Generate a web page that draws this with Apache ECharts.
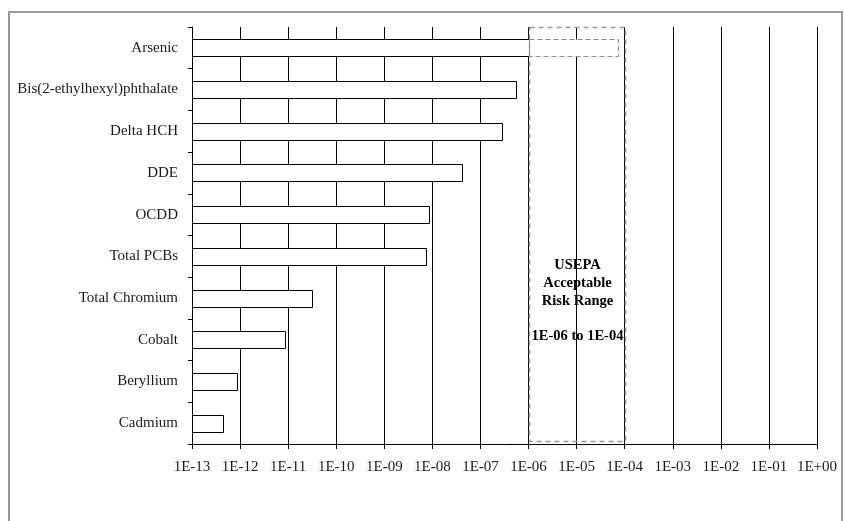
<!DOCTYPE html>
<html>
<head>
<meta charset="utf-8">
<script src="https://cdn.jsdelivr.net/npm/echarts@6/dist/echarts.min.js"></script>
<style>
  html, body { margin: 0; padding: 0; background: #fff; }
  #chart { width: 844px; height: 521px; }
</style>
</head>
<body>
<div id="chart"></div>
<script>
// Estimated excess lifetime cancer risk by chemical (log scale)
const categories = [
  'Arsenic',
  'Bis(2-ethylhexyl)phthalate',
  'Delta HCH',
  'DDE',
  'OCDD',
  'Total PCBs',
  'Total Chromium',
  'Cobalt',
  'Beryllium',
  'Cadmium'
];
const riskValues = [7.3e-5, 5.6e-7, 2.8e-7, 4.2e-8, 8.7e-9, 7.4e-9, 3.1e-11, 8.7e-12, 8.8e-13, 4.4e-13];

const tickLabels = ['1E-13', '1E-12', '1E-11', '1E-10', '1E-09', '1E-08', '1E-07',
                    '1E-06', '1E-05', '1E-04', '1E-03', '1E-02', '1E-01', '1E+00'];
const axisMin = 1e-13;
const axisMax = 1;

// USEPA acceptable risk range box
const acceptableRange = [1e-6, 1e-4];
const rangeNote = ['USEPA', 'Acceptable', 'Risk Range', '', '1E-06 to 1E-04'];

const SERIF = '"Liberation Serif", "Times New Roman", serif';
const px = v => Math.round(v) + 0.5;

const chart = echarts.init(document.getElementById('chart'), null, { renderer: 'canvas' });

chart.setOption({
  animation: false,
  backgroundColor: '#fff',
  grid: { left: 192, right: 27, top: 27, bottom: 77, containLabel: false },
  xAxis: {
    type: 'log',
    logBase: 10,
    min: axisMin,
    max: axisMax,
    interval: 1,
    axisLine: { show: true, lineStyle: { color: '#000', width: 1 } },
    axisTick: { show: true, length: 5, lineStyle: { color: '#000' } },
    splitLine: { show: true, lineStyle: { color: '#000', width: 1 } },
    minorTick: { show: false },
    axisLabel: {
      margin: 16,
      color: '#1a1a1a',
      fontFamily: SERIF,
      fontSize: 15,
      showMinLabel: true,
      showMaxLabel: true,
      formatter: v => tickLabels[Math.round(Math.log10(v)) + 13]
    }
  },
  yAxis: {
    type: 'category',
    inverse: true,
    data: categories,
    axisLine: { show: true, lineStyle: { color: '#000', width: 1 } },
    axisTick: { show: true, length: 4, interval: 0, lineStyle: { color: '#000' } },
    splitLine: { show: false },
    axisLabel: {
      margin: 14,
      interval: 0,
      color: '#1a1a1a',
      fontFamily: SERIF,
      fontSize: 15
    }
  },
  graphic: [
    {
      type: 'rect',
      z: 100,
      shape: { x: 9, y: 12, width: 833, height: 520 },
      style: { fill: 'none', stroke: '#9a9a9a', lineWidth: 2 }
    }
  ],
  series: [
    {
      // risk bars, drawn from the axis minimum to each value
      type: 'custom',
      z: 5,
      encode: { x: 0, y: 1 },
      data: riskValues.map((v, i) => [v, i]),
      renderItem(params, api) {
        const v = api.value(0);
        const idx = api.value(1);
        const start = api.coord([axisMin, idx]);
        const end = api.coord([v, idx]);
        const band = Math.abs(api.coord([axisMin, idx + 1])[1] - start[1]) || api.size([0, 1])[1];
        const h = band * 0.41;
        const y0 = px(start[1] - h / 2);
        const y1 = px(start[1] + h / 2);
        const x0 = px(start[0]);
        const x1 = px(end[0]);
        const children = [];
        if (v > acceptableRange[0]) {
          // part of the bar inside the acceptable range box gets a dashed outline
          const xr = px(api.coord([acceptableRange[0], idx])[0]);
          children.push({
            type: 'rect',
            shape: { x: x0, y: y0, width: xr - x0, height: y1 - y0 },
            style: { fill: '#fff', stroke: '#000', lineWidth: 1 }
          });
          children.push({
            type: 'rect',
            shape: { x: xr, y: y0, width: x1 - xr, height: y1 - y0 },
            style: { fill: '#fff', stroke: '#8a8a8a', lineWidth: 1, lineDash: [5, 3] }
          });
        } else {
          children.push({
            type: 'rect',
            shape: { x: x0, y: y0, width: x1 - x0, height: y1 - y0 },
            style: { fill: '#fff', stroke: '#000', lineWidth: 1 }
          });
        }
        return { type: 'group', children };
      }
    },
    {
      // acceptable risk range box with its note
      type: 'custom',
      z: 10,
      encode: { x: [0, 1] },
      data: [[acceptableRange[0], acceptableRange[1]]],
      renderItem(params, api) {
        const cs = params.coordSys;
        const left = px(api.coord([api.value(0), 0])[0]);
        const right = px(api.coord([api.value(1), 0])[0]);
        const top = px(cs.y);
        const bottom = px(cs.y + cs.height - 3);
        const cx = (left + right) / 2;
        return {
          type: 'group',
          children: [
            {
              type: 'rect',
              shape: { x: left, y: top, width: right - left, height: bottom - top },
              style: { fill: 'none', stroke: '#999', lineWidth: 1.5, lineDash: [5, 4] }
            },
            {
              type: 'text',
              style: {
                x: cx,
                y: cs.y + cs.height * 0.657,
                text: rangeNote.join('\n'),
                align: 'center',
                verticalAlign: 'middle',
                fontFamily: SERIF,
                fontWeight: 'bold',
                fontSize: 14.5,
                lineHeight: 17.7,
                fill: '#000'
              }
            }
          ]
        };
      }
    }
  ]
});
</script>
</body>
</html>
